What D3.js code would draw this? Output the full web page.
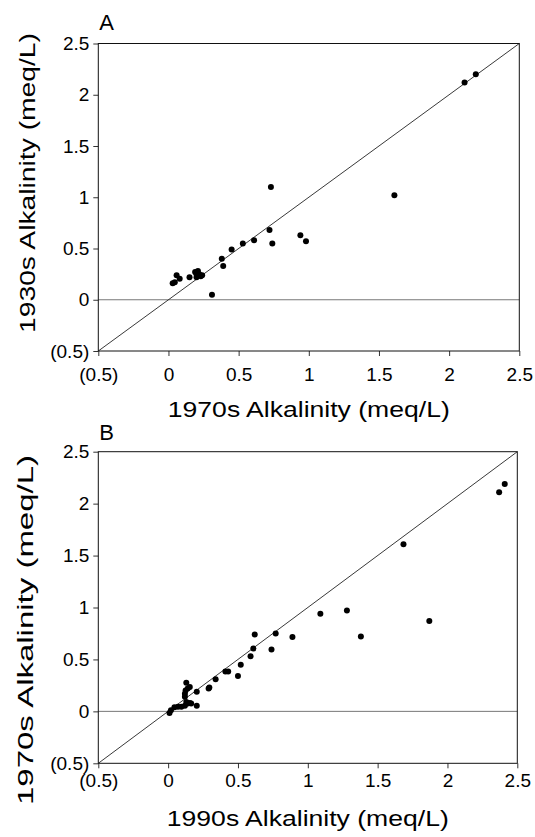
<!DOCTYPE html>
<html><head><meta charset="utf-8">
<script src="https://cdn.jsdelivr.net/npm/d3@7"></script>
<style>
html,body{margin:0;padding:0;background:#fff;}
svg{display:block;font-family:"Liberation Sans",Arial,Helvetica,sans-serif;}
</style></head>
<body>
<svg id="chart" width="535" height="837"></svg>
<script>
// Tick values shared by both panels
const tickValues = [-0.5, 0, 0.5, 1, 1.5, 2, 2.5];

// Panel A: x = 1970s alkalinity, y = 1930s alkalinity (meq/L)
const panelA_x1970 = [2.11, 2.19, 0.73, 1.61, 0.72, 0.94, 0.98, 0.74, 0.61, 0.53, 0.45, 0.38, 0.39, 0.31,
  0.03, 0.045, 0.058, 0.08, 0.15, 0.19, 0.21, 0.20, 0.22, 0.23, 0.24, 0.20];
const panelA_y1930 = [2.12, 2.20, 1.10, 1.02, 0.68, 0.63, 0.57, 0.55, 0.58, 0.55, 0.49, 0.40, 0.33, 0.05,
  0.16, 0.17, 0.24, 0.205, 0.22, 0.27, 0.28, 0.22, 0.25, 0.23, 0.24, 0.25];

// Panel B: x = 1990s alkalinity, y = 1970s alkalinity (meq/L)
const panelB_x1990 = [2.41, 2.37, 1.685, 1.09, 1.28, 1.38, 1.87, 0.89, 0.77, 0.62, 0.61, 0.74, 0.59, 0.52,
  0.50, 0.43, 0.41, 0.34, 0.29, 0.295, 0.205, 0.205, 0.13, 0.12, 0.125, 0.14, 0.155, 0.165, 0.14, 0.12,
  0.095, 0.07, 0.045, 0.02, 0.01, 0.13, 0.12, 0.155];
const panelB_y1970 = [2.19, 2.11, 1.61, 0.94, 0.97, 0.72, 0.87, 0.715, 0.75, 0.74, 0.605, 0.595, 0.53, 0.45,
  0.34, 0.385, 0.385, 0.31, 0.22, 0.23, 0.19, 0.055, 0.275, 0.17, 0.20, 0.22, 0.235, 0.075, 0.075, 0.055,
  0.045, 0.045, 0.04, 0.01, -0.015, 0.09, 0.14, 0.08];

const svg = d3.select("#chart");
svg.append("rect").attr("width", 535).attr("height", 837).attr("fill", "#fff");

const fmt = d => d < 0 ? "(" + Math.abs(d) + ")" : String(d);

function panel(cfg) {
  const x = d3.scaleLinear().domain([-0.5, 2.5]).range([cfg.left, cfg.right]);
  const y = d3.scaleLinear().domain([-0.5, 2.5]).range([cfg.bottom, cfg.top]);
  const g = svg.append("g");

  // zero line
  g.append("line").attr("x1", x(-0.5)).attr("x2", x(2.5)).attr("y1", y(0)).attr("y2", y(0))
    .attr("stroke", "#777").attr("stroke-width", 1);
  // 1:1 line
  g.append("line").attr("x1", x(-0.5)).attr("y1", y(-0.5)).attr("x2", x(2.5)).attr("y2", y(2.5))
    .attr("stroke", "#222").attr("stroke-width", 0.9);

  // axes
  const xa = g.append("g").attr("transform", `translate(0,${cfg.bottom})`)
    .call(d3.axisBottom(x).tickValues(tickValues).tickFormat(fmt).tickSize(5).tickSizeOuter(0).tickPadding(cfg.xPad));
  const ya = g.append("g").attr("transform", `translate(${cfg.left},0)`)
    .call(d3.axisLeft(y).tickValues(tickValues).tickFormat(fmt).tickSize(5).tickSizeOuter(0).tickPadding(4));
  [xa, ya].forEach(a => {
    a.select(".domain").remove();
    a.selectAll("line").attr("stroke", "#333");
    a.selectAll("text").attr("font-size", 19).attr("fill", "#000")
      .attr("font-family", '"Liberation Sans",Arial,Helvetica,sans-serif');
  });

  // frame
  g.append("rect").attr("x", x(-0.5)).attr("y", y(2.5))
    .attr("width", x(2.5) - x(-0.5)).attr("height", y(-0.5) - y(2.5))
    .attr("fill", "none").attr("stroke", "#111").attr("stroke-width", 1);

  // points
  g.selectAll("circle.pt").data(cfg.xs.map((v, i) => [v, cfg.ys[i]])).join("circle")
    .attr("class", "pt").attr("cx", d => x(d[0])).attr("cy", d => y(d[1])).attr("r", 3)
    .attr("fill", "#000");

  // panel letter
  g.append("text").attr("x", cfg.left + 1).attr("y", cfg.letterY).attr("font-size", 22)
    .attr("fill", "#000").text(cfg.letter);

  // x title
  g.append("text").attr("x", (cfg.left + cfg.right) / 2).attr("y", cfg.xTitleY)
    .attr("text-anchor", "middle").attr("font-size", 22).attr("fill", "#000")
    .attr("textLength", 282).attr("lengthAdjust", "spacingAndGlyphs").text(cfg.xTitle);

  // y title
  g.append("text").attr("transform", `translate(${cfg.yTitleX},${cfg.yTitleC}) rotate(-90)`)
    .attr("text-anchor", "middle").attr("font-size", 22).attr("fill", "#000")
    .attr("textLength", cfg.yTitleLen).attr("lengthAdjust", "spacingAndGlyphs").text(cfg.yTitle);
}

panel({
  left: 98.3, right: 519.3, top: 43.5, bottom: 351, xPad: 12,
  xs: panelA_x1970, ys: panelA_y1930, letter: "A", letterY: 30,
  xTitle: "1970s Alkalinity (meq/L)", xTitleY: 417,
  yTitle: "1930s Alkalinity (meq/L)", yTitleX: 35, yTitleC: 183, yTitleLen: 300
});
panel({
  left: 98.3, right: 517.3, top: 451.7, bottom: 763.3, xPad: 5,
  xs: panelB_x1990, ys: panelB_y1970, letter: "B", letterY: 440,
  xTitle: "1990s Alkalinity (meq/L)", xTitleY: 826,
  yTitle: "1970s Alkalinity (meq/L)", yTitleX: 33, yTitleC: 630, yTitleLen: 350
});
</script>
</body></html>
